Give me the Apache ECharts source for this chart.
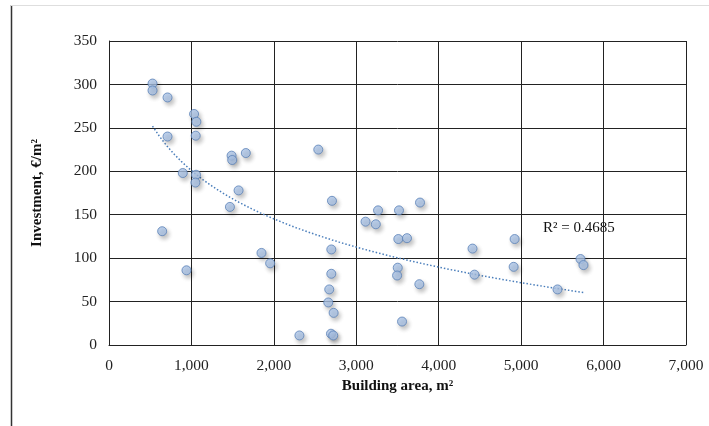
<!DOCTYPE html>
<html>
<head>
<meta charset="utf-8">
<script src="https://cdn.jsdelivr.net/npm/echarts@6/dist/echarts.min.js"></script>
<style>
  html, body { margin: 0; padding: 0; background: #fff; }
  #chart { width: 709px; height: 426px; }
</style>
</head>
<body>
<div id="chart"></div>
<script>
// Building area (m²) of each project
const buildingArea = [
  528, 528, 710, 1032, 1060, 1052, 710, 1487, 1495, 1660,
  895, 1056, 1048, 1572, 1467, 645, 1850, 1955, 940, 2310,
  2539, 2705, 3773, 3264, 3518, 3112, 3237, 3510, 3615, 2697,
  4410, 2697, 3503, 3495, 4434, 3765, 2672, 2660, 2725, 3555,
  2693, 2720, 4921, 4909, 5720, 5756, 5441
];
// Investment per square metre (€/m²) of each project
const investment = [
  301, 293, 285, 266, 257, 241, 240, 218, 213, 221,
  198, 196, 187, 178, 159, 131, 106, 94, 86, 11,
  225, 166, 164, 155, 155, 142, 139, 122, 123, 110,
  111, 82, 89, 80, 81, 70, 64, 49, 37, 27,
  13, 11, 122, 90, 99, 92, 64
];
const xTicks = [0, 1000, 2000, 3000, 4000, 5000, 6000, 7000];
const yTicks = [0, 50, 100, 150, 200, 250, 300, 350];
const rSquaredLabel = 'R² = 0.4685';

// Logarithmic least-squares trend: y = a·ln(x) + b
function logFit(xs, ys) {
  const n = xs.length;
  let sx = 0, sy = 0, sxx = 0, sxy = 0;
  for (let i = 0; i < n; i++) {
    const lx = Math.log(xs[i]);
    sx += lx; sy += ys[i]; sxx += lx * lx; sxy += lx * ys[i];
  }
  const a = (n * sxy - sx * sy) / (n * sxx - sx * sx);
  const b = (sy - a * sx) / n;
  return { a, b };
}
const fit = logFit(buildingArea, investment);
const xMin = Math.min(...buildingArea), xMax = Math.max(...buildingArea);
const trend = [];
for (let i = 0; i <= 60; i++) {
  const x = xMin + (xMax - xMin) * i / 60;
  trend.push([x, fit.a * Math.log(x) + fit.b]);
}

const points = buildingArea.map((x, i) => [x, investment[i]]);
const serif = '"Liberation Serif", "Times New Roman", serif';

const chart = echarts.init(document.getElementById('chart'), null, { renderer: 'canvas' });
chart.setOption({
  animation: false,
  backgroundColor: '#fff',
  grid: { left: 109, right: 23, top: 41, bottom: 81, containLabel: false },
  xAxis: {
    type: 'value',
    min: xTicks[0], max: xTicks[xTicks.length - 1], interval: 1000,
    name: 'Building area, m²',
    nameLocation: 'middle', nameGap: 33,
    nameTextStyle: { fontFamily: serif, fontWeight: 'bold', fontSize: 15, color: '#111' },
    axisLine: { show: true, lineStyle: { color: '#222', width: 1 } },
    axisTick: { show: false },
    axisLabel: {
      fontFamily: serif, fontSize: 15.5, color: '#222', margin: 13,
      formatter: v => v.toLocaleString('en-US')
    },
    splitLine: { show: true, lineStyle: { color: '#222', width: 1 } }
  },
  yAxis: {
    type: 'value',
    min: yTicks[0], max: yTicks[yTicks.length - 1], interval: 50,
    name: 'Investment, €/m²',
    nameLocation: 'middle', nameGap: 64, nameRotate: 90,
    nameTextStyle: { fontFamily: serif, fontWeight: 'bold', fontSize: 15, color: '#111' },
    axisLine: { show: true, lineStyle: { color: '#222', width: 1 } },
    axisTick: { show: false },
    axisLabel: { fontFamily: serif, fontSize: 15.5, color: '#222', margin: 12 },
    splitLine: { show: true, lineStyle: { color: '#222', width: 1 } }
  },
  series: [
    {
      type: 'line',
      data: trend,
      showSymbol: false,
      smooth: false,
      lineStyle: { color: '#4a7ebb', width: 1.5, type: [1.5, 2] },
      z: 2,
      silent: true
    },
    {
      type: 'scatter',
      data: points,
      symbol: 'circle',
      symbolSize: 9,
      itemStyle: {
        color: '#adc6e8',
        borderColor: '#5b82b8',
        borderWidth: 1,
        shadowBlur: 4,
        shadowOffsetX: 2,
        shadowOffsetY: 3,
        shadowColor: 'rgba(0,0,0,0.3)'
      },
      z: 3
    }
  ],
  graphic: [
    { type: 'line', shape: { x1: 11.5, y1: 5, x2: 11.5, y2: 426 }, style: { stroke: '#333', lineWidth: 1.5 } },
    { type: 'line', shape: { x1: 11, y1: 5.5, x2: 709, y2: 5.5 }, style: { stroke: '#dedede', lineWidth: 1 } },
    {
      type: 'text', left: 543, top: 221,
      style: { text: rSquaredLabel, font: '15px ' + serif, fill: '#111' }
    }
  ]
});
</script>
</body>
</html>
